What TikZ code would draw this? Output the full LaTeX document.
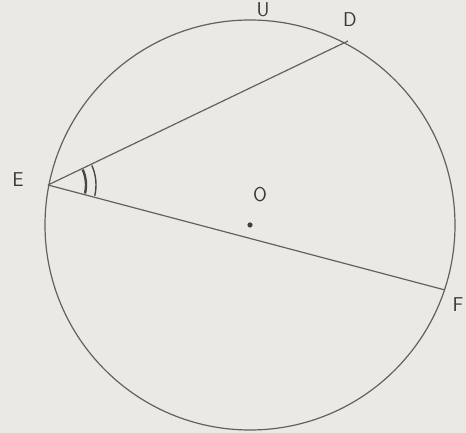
\documentclass[tikz,border=0pt]{standalone}
\usepackage{fontspec}
\setmainfont{DejaVu Sans}
\begin{document}
\begin{tikzpicture}[x=1pt,y=1pt,
  pen/.style={draw=black!62,line width=1.2pt},
  lbl/.style={font=\fontsize{20}{23}\selectfont\sffamily,text=black!78,inner sep=0pt}]
\fill[color={rgb,255:red,234;green,233;blue,228}] (0,0) rectangle (466,433);
\useasboundingbox (0,0) rectangle (466,433);
\coordinate (O) at (250,208);
\coordinate (E) at (48,248);
\coordinate (D) at (348,392);
\coordinate (F) at (445,143);
\draw[pen] (O) circle[radius=205];
\draw[pen] (E) -- (D);
\draw[pen] (E) -- (F);
\fill[black!75] (O) circle[radius=2.6];
\draw[black!72,line width=2.4pt] ([shift={(-13:38)}]E) arc[start angle=-13,end angle=24,radius=38];
\draw[black!72,line width=1.4pt] ([shift={(-13:48)}]E) arc[start angle=-13,end angle=24,radius=48];
\node[lbl] (lE) at (18,253) {E};
\node[lbl] (lD) at (350,413) {D};
\node[lbl] (lF) at (458,128) {F};
\node[lbl] (lO) at (260,238) {O};
\node[lbl,anchor=north] (lU) at (263,431) {U};
\end{tikzpicture}
\end{document}
